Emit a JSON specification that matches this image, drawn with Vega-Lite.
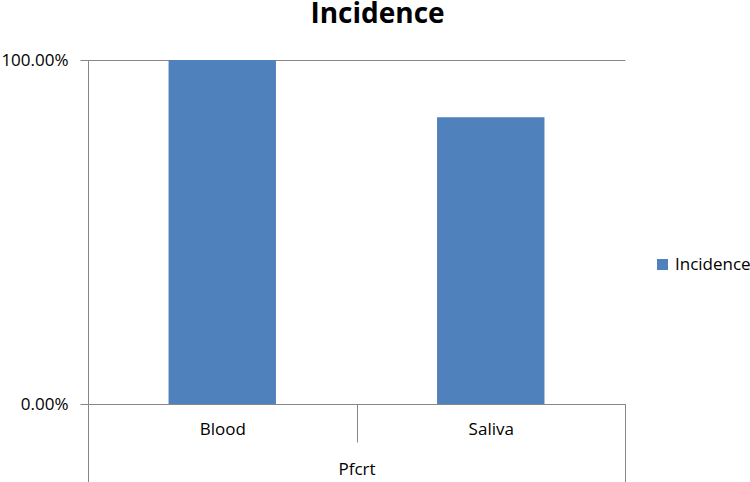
{
  "$schema": "https://vega.github.io/schema/vega-lite/v6.json",
  "autosize": "none",
  "width": 537,
  "height": 344,
  "padding": {"left": 88, "top": 60, "right": 125, "bottom": 78},
  "background": "white",
  "title": {
    "text": "Incidence",
    "font": "Open Sans",
    "fontSize": 28,
    "fontWeight": "bold",
    "color": "black",
    "anchor": "middle",
    "dx": 21,
    "offset": 22
  },
  "config": {
    "view": {"stroke": null},
    "font": "Open Sans"
  },
  "data": {
    "values": [
      {"sample": "Blood", "gene": "Pfcrt", "series": "Incidence", "value": 1.0},
      {"sample": "Saliva", "gene": "Pfcrt", "series": "Incidence", "value": 0.8333}
    ]
  },
  "mark": {"type": "bar", "width": {"band": 0.4}},
  "encoding": {
    "x": {
      "field": "sample",
      "type": "nominal",
      "sort": ["Blood", "Saliva"],
      "scale": {"paddingInner": 0, "paddingOuter": 0},
      "axis": {
        "title": "Pfcrt",
        "titleFont": "Open Sans",
        "titleFontSize": 17,
        "titleFontWeight": "normal",
        "titleColor": "black",
        "titlePadding": -21,
        "orient": "bottom",
        "labelAngle": 0,
        "labelFont": "Open Sans",
        "labelFontSize": 17,
        "labelColor": "black",
        "tickBand": "extent",
        "tickSize": 78,
        "tickColor": "#868686",
        "tickDash": {"condition": {"test": "datum.value === 'Blood'", "value": [38, 200]}, "value": []},
        "domainColor": "#868686",
        "labelPadding": -61,
        "grid": false
      }
    },
    "y": {
      "field": "value",
      "type": "quantitative",
      "scale": {"domain": [0, 1], "nice": false},
      "axis": {
        "title": null,
        "values": [0, 1],
        "format": ".2%",
        "labelFont": "Open Sans",
        "labelFontSize": 17,
        "labelColor": "black",
        "tickSize": 8,
        "tickColor": "#868686",
        "domainColor": "#868686",
        "gridColor": "#868686",
        "labelPadding": 12,
        "grid": true
      }
    },
    "color": {
      "field": "series",
      "type": "nominal",
      "scale": {"range": ["#4F81BD"]},
      "legend": {
        "title": null,
        "orient": "none",
        "legendX": 566,
        "legendY": 196,
        "symbolType": "square",
        "symbolSize": 121,
        "symbolStrokeWidth": 0,
        "labelFont": "Open Sans",
        "labelFontSize": 17,
        "labelColor": "black"
      }
    }
  }
}
